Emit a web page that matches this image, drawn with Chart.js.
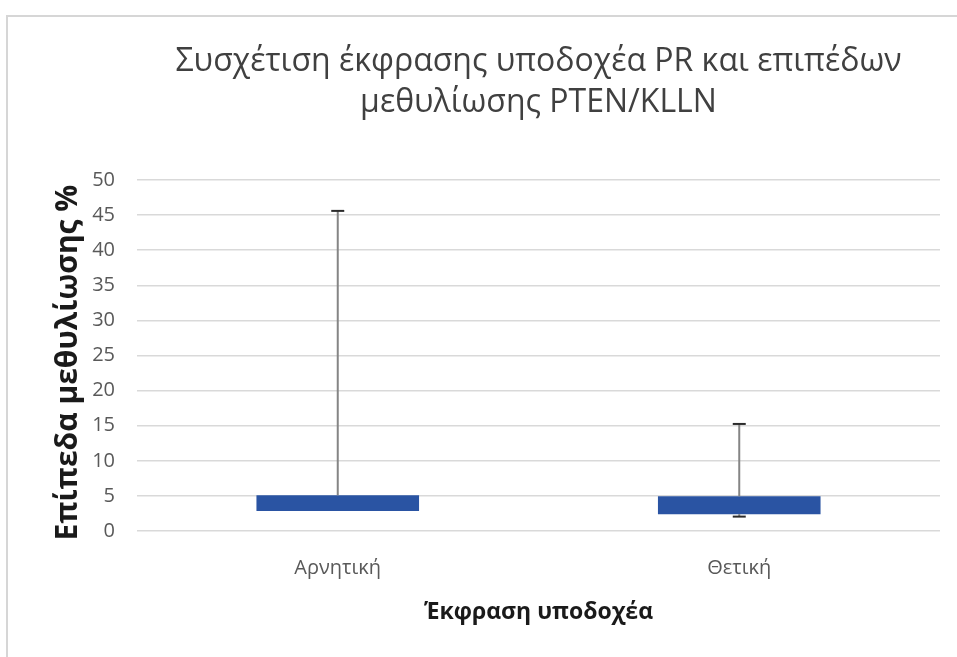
<!DOCTYPE html>
<html>
<head>
<meta charset="utf-8">
<script src="https://cdn.jsdelivr.net/npm/chart.js@4/dist/chart.umd.min.js"></script>
<style>
  html, body { margin: 0; padding: 0; background: #fff; }
  #wrap { position: relative; width: 957px; height: 657px; overflow: hidden; }
  #frame { position: absolute; left: 6px; top: 15px; width: 980px; height: 700px;
           border-top: 2px solid #d6d6d6; border-left: 2px solid #d6d6d6; }
  canvas { position: absolute; left: 0; top: 0; }
</style>
</head>
<body>
<div id="wrap">
  <div id="frame"></div>
  <canvas id="chart" width="957" height="657"></canvas>
</div>
<script>
// Κατηγορίες και τιμές (πλαίσιο + μουστάκια)
const categories = ['Αρνητική', 'Θετική'];
const boxLow = [2.85, 2.4];
const boxHigh = [5.1, 4.95];
const whiskerMax = [45.6, 15.25];
const whiskerMin = [2.85, 2.05];

const titleLines = ['Συσχέτιση έκφρασης υποδοχέα PR και επιπέδων', 'μεθυλίωσης PTEN/KLLN'];
const yTitle = 'Επίπεδα μεθυλίωσης %';

const FONT = "'Open Sans', 'Noto Sans', sans-serif";

// Μουστάκια: γραμμή από το πλαίσιο έως το max/min με καπάκι
const whiskers = {
  id: 'whiskers',
  afterDatasetsDraw(chart) {
    const { ctx, scales: { x, y } } = chart;
    const seg = (px, a, b) => {
      ctx.strokeStyle = '#858585';
      ctx.lineWidth = 2;
      ctx.beginPath();
      ctx.moveTo(px, a);
      ctx.lineTo(px, b);
      ctx.stroke();
      ctx.strokeStyle = '#2b2b2b';
      ctx.beginPath();
      ctx.moveTo(px - 6.5, b);
      ctx.lineTo(px + 6.5, b);
      ctx.stroke();
    };
    ctx.save();
    categories.forEach((c, i) => {
      const px = x.getPixelForValue(i);
      seg(px, y.getPixelForValue(boxHigh[i]), y.getPixelForValue(whiskerMax[i]));
      if (whiskerMin[i] < boxLow[i]) {
        seg(px, y.getPixelForValue(boxLow[i]), y.getPixelForValue(whiskerMin[i]));
      }
    });
    ctx.restore();
  }
};

// Τίτλος πάνω από την περιοχή σχεδίασης και τίτλος άξονα y
const titles = {
  id: 'titles',
  afterDraw(chart) {
    const { ctx, chartArea } = chart;
    const cx = (chartArea.left + chartArea.right) / 2;
    ctx.save();
    ctx.textAlign = 'center';
    ctx.textBaseline = 'middle';
    ctx.fillStyle = '#404040';
    ctx.font = '32px ' + FONT;
    titleLines.forEach((t, i) => ctx.fillText(t, cx, chartArea.top - 118 + i * 41));
    ctx.translate(68, (chartArea.top + chartArea.bottom) / 2 + 7);
    ctx.rotate(-Math.PI / 2);
    ctx.fillStyle = '#1a1a1a';
    ctx.font = 'bold 30px ' + FONT;
    ctx.fillText(yTitle, 0, 0);
    ctx.restore();
  }
};

new Chart(document.getElementById('chart'), {
  type: 'bar',
  data: {
    labels: categories,
    datasets: [{
      data: categories.map((c, i) => [boxLow[i], boxHigh[i]]),
      backgroundColor: '#2a54a3',
      borderWidth: 0,
      barPercentage: 0.405,
      categoryPercentage: 1
    }]
  },
  options: {
    responsive: false,
    animation: false,
    layout: { padding: { left: 0, right: 17, top: 180, bottom: 0 } },
    plugins: {
      legend: { display: false },
      tooltip: { enabled: false },
      title: { display: false }
    },
    scales: {
      x: {
        grid: { display: false },
        border: { display: false },
        ticks: { color: '#595959', font: { family: FONT, size: 20 }, padding: 17 },
        title: {
          display: true,
          text: 'Έκφραση υποδοχέα',
          color: '#1a1a1a',
          font: { family: FONT, size: 23, weight: 'bold' },
          padding: { top: 0, bottom: 31 }
        },
        afterFit(scale) { scale.height = 126; }
      },
      y: {
        min: 0,
        max: 50,
        ticks: { stepSize: 5, color: '#595959', font: { family: FONT, size: 20 }, padding: 22 },
        grid: { color: '#d9d9d9', lineWidth: 1.5, drawTicks: false },
        border: { display: false },
        afterFit(scale) { scale.width = 137; }
      }
    }
  },
  plugins: [whiskers, titles]
});
</script>
</body>
</html>
